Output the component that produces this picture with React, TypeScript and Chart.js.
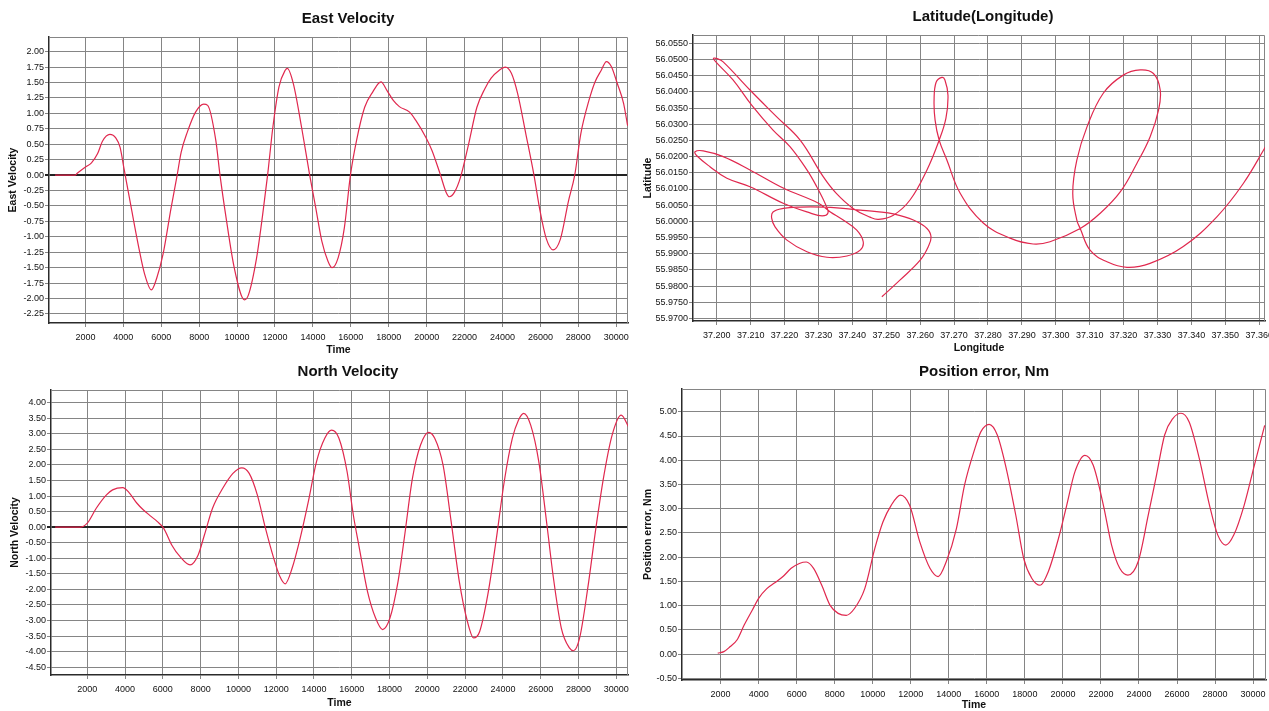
import React, { useEffect, useRef } from "react";
import { Chart, registerables } from "chart.js";

Chart.register(...registerables);

const FONT = "'Liberation Sans', Arial, Helvetica, sans-serif";
const RED = "#e0284e";
const GRID = "#858585";
const AXIS = "#2b2b2b";

// ---------- East Velocity ----------
const eastTime = [400, 1460, 1570, 2000, 2320, 2645, 2900, 3290, 3610, 3830, 4040, 4400, 4800, 5120, 5480, 5760, 6090, 6520, 6840, 7050, 7380, 7810, 8240, 8450, 8880, 9100, 9420, 9850, 10390, 10600, 11030, 11350, 11610, 11890, 12210, 12540, 12650, 12970, 13400, 13830, 14150, 14470, 14800, 15010, 15330, 15660, 15980, 16300, 16730, 17160, 17590, 17910, 18240, 18560, 19100, 19420, 19960, 20280, 20710, 21030, 21200, 21460, 21780, 22210, 22650, 23070, 23400, 23830, 24150, 24470, 24800, 25230, 25660, 25980, 26300, 26670, 27050, 27480, 27810, 28130, 28560, 28880, 29210, 29480, 29740, 30060, 30390, 30600];
const eastVel = [0, 0, 0.03, 0.13, 0.2, 0.35, 0.55, 0.66, 0.6, 0.45, 0.1, -0.5, -1.15, -1.6, -1.86, -1.67, -1.29, -0.53, 0, 0.37, 0.7, 1.02, 1.15, 1.13, 0.56, 0, -0.69, -1.5, -2.02, -1.94, -1.34, -0.64, 0, 0.78, 1.43, 1.7, 1.73, 1.48, 0.78, 0, -0.53, -1.07, -1.4, -1.5, -1.34, -0.85, 0, 0.56, 1.1, 1.35, 1.51, 1.37, 1.21, 1.11, 1.02, 0.89, 0.61, 0.4, 0.02, -0.28, -0.35, -0.28, -0.04, 0.5, 1.1, 1.4, 1.57, 1.7, 1.75, 1.65, 1.32, 0.67, 0, -0.58, -1.02, -1.21, -1.04, -0.42, 0, 0.67, 1.21, 1.51, 1.7, 1.84, 1.76, 1.48, 1.16, 0.8];

// ---------- North Velocity ----------
const northTime = [300, 1610, 2000, 2475, 3015, 3340, 3880, 4200, 4630, 4960, 5390, 5710, 6040, 6470, 6900, 7440, 7870, 8200, 8630, 9170, 9710, 10180, 10570, 11000, 11430, 11870, 12190, 12470, 12840, 13270, 13700, 14130, 14570, 14930, 15320, 15750, 16080, 16400, 16830, 17260, 17630, 18020, 18450, 18780, 19210, 19640, 20070, 20390, 20830, 21260, 21690, 22120, 22450, 22770, 23200, 23630, 24070, 24500, 24820, 25100, 25470, 25900, 26330, 26650, 27090, 27520, 27740, 28060, 28490, 28920, 29350, 29780, 30260, 30650];
const northVel = [0, 0, 0.13, 0.61, 1.04, 1.2, 1.27, 1.12, 0.77, 0.56, 0.34, 0.18, -0.03, -0.57, -0.94, -1.21, -0.89, -0.25, 0.61, 1.25, 1.73, 1.91, 1.73, 1.04, -0.03, -1.0, -1.58, -1.82, -1.32, -0.35, 0.82, 2.1, 2.86, 3.12, 2.86, 1.79, 0.4, -0.67, -2.06, -2.92, -3.29, -2.92, -1.74, -0.35, 1.57, 2.64, 3.05, 2.86, 2.0, 0.18, -1.74, -3.03, -3.56, -3.35, -2.17, -0.46, 1.47, 2.86, 3.44, 3.66, 3.28, 2.1, 0.07, -1.53, -3.24, -3.88, -3.97, -3.56, -1.96, -0.03, 1.68, 2.96, 3.6, 3.23];

// ---------- Position error ----------
const errTime = [1850, 2170, 2490, 2860, 3240, 3670, 4000, 4430, 4850, 5280, 5710, 6140, 6510, 6890, 7320, 7750, 8180, 8610, 9040, 9580, 10110, 10540, 10970, 11460, 11940, 12470, 13010, 13440, 13870, 14400, 14830, 15370, 15690, 16120, 16550, 16980, 17520, 17940, 18370, 18800, 19230, 19770, 20200, 20630, 21160, 21590, 22130, 22560, 22990, 23420, 23960, 24490, 24920, 25350, 25780, 26210, 26640, 27170, 27710, 28140, 28570, 28990, 29530, 30070, 30610];
const errVal = [0.02, 0.05, 0.15, 0.29, 0.6, 0.91, 1.15, 1.35, 1.47, 1.6, 1.77, 1.87, 1.9, 1.77, 1.42, 1.01, 0.84, 0.8, 0.94, 1.35, 2.18, 2.73, 3.07, 3.28, 3.07, 2.32, 1.77, 1.6, 1.91, 2.59, 3.49, 4.24, 4.59, 4.74, 4.52, 3.9, 2.87, 1.97, 1.56, 1.42, 1.7, 2.39, 3.07, 3.76, 4.1, 3.9, 3.07, 2.25, 1.77, 1.63, 1.91, 2.87, 3.69, 4.52, 4.86, 4.97, 4.79, 4.04, 3.07, 2.46, 2.25, 2.46, 3.07, 3.9, 4.72];

// ---------- Latitude(Longitude) track ----------
const trackLon = [37.2487, 37.2541, 37.26, 37.2624, 37.2632, 37.262, 37.258, 37.2521, 37.2472, 37.2423, 37.2364, 37.2314, 37.2246, 37.2196, 37.2166, 37.2162, 37.2172, 37.2207, 37.2266, 37.2325, 37.2384, 37.2423, 37.2432, 37.2413, 37.2373, 37.2334, 37.23, 37.2196, 37.2098, 37.2019, 37.196, 37.1936, 37.1942, 37.198, 37.203, 37.2098, 37.2196, 37.2275, 37.2311, 37.2328, 37.2322, 37.2295, 37.2266, 37.2216, 37.2166, 37.2103, 37.2048, 37.1998, 37.199, 37.2001, 37.2019, 37.2098, 37.2177, 37.2246, 37.2314, 37.2352, 37.2402, 37.2452, 37.2477, 37.2521, 37.257, 37.262, 37.2656, 37.2676, 37.2682, 37.2673, 37.2664, 37.2647, 37.2641, 37.2644, 37.2656, 37.2679, 37.2718, 37.2786, 37.2865, 37.2933, 37.2983, 37.3072, 37.3131, 37.319, 37.3239, 37.3278, 37.3303, 37.3308, 37.3288, 37.3249, 37.3199, 37.314, 37.3092, 37.3062, 37.305, 37.3062, 37.3072, 37.3101, 37.3151, 37.321, 37.3278, 37.3376, 37.3475, 37.3553, 37.362];
const trackLat = [55.9767, 55.9819, 55.988, 55.9922, 55.9952, 55.9978, 56.0004, 56.0023, 56.003, 56.0035, 56.0041, 56.0044, 56.0044, 56.004, 56.0029, 56.001, 55.9983, 55.9942, 55.9906, 55.9889, 55.9893, 55.9911, 55.9937, 55.9973, 56.0004, 56.003, 56.0056, 56.0103, 56.0159, 56.02, 56.0218, 56.0215, 56.0202, 56.0169, 56.0133, 56.0107, 56.0056, 56.0026, 56.0017, 56.0026, 56.005, 56.0107, 56.0159, 56.0231, 56.0282, 56.0359, 56.0437, 56.0492, 56.0504, 56.0503, 56.0493, 56.0406, 56.0323, 56.0251, 56.0138, 56.0087, 56.004, 56.0013, 56.0006, 56.0019, 56.0066, 56.0159, 56.0251, 56.0319, 56.039, 56.0437, 56.0445, 56.043, 56.0375, 56.0313, 56.0251, 56.0189, 56.0087, 55.9995, 55.9948, 55.993, 55.9937, 55.9978, 56.0025, 56.0091, 56.0179, 56.0261, 56.0344, 56.0406, 56.0457, 56.0468, 56.0452, 56.0396, 56.0292, 56.0189, 56.0087, 56.0004, 55.9978, 55.9911, 55.9875, 55.9858, 55.987, 55.9922, 56.0014, 56.0117, 56.0233];

// ---------- Tick values ----------
const timeTicks = [2000, 4000, 6000, 8000, 10000, 12000, 14000, 16000, 18000, 20000, 22000, 24000, 26000, 28000, 30000];
const eastTicks = [-2.25, -2.0, -1.75, -1.5, -1.25, -1.0, -0.75, -0.5, -0.25, 0, 0.25, 0.5, 0.75, 1.0, 1.25, 1.5, 1.75, 2.0];
const northTicks = [-4.5, -4.0, -3.5, -3.0, -2.5, -2.0, -1.5, -1.0, -0.5, 0, 0.5, 1.0, 1.5, 2.0, 2.5, 3.0, 3.5, 4.0];
const errTicks = [-0.5, 0, 0.5, 1.0, 1.5, 2.0, 2.5, 3.0, 3.5, 4.0, 4.5, 5.0];
const lonTicks = [37.2, 37.21, 37.22, 37.23, 37.24, 37.25, 37.26, 37.27, 37.28, 37.29, 37.3, 37.31, 37.32, 37.33, 37.34, 37.35, 37.36];
const latTicks = [55.97, 55.975, 55.98, 55.985, 55.99, 55.995, 56.0, 56.005, 56.01, 56.015, 56.02, 56.025, 56.03, 56.035, 56.04, 56.045, 56.05, 56.055];

type Spec = {
  key: string;
  left: number; top: number; width: number; height: number;
  area: { left: number; top: number; right: number; bottom: number };
  title: string; titleX: number; titleY: number;
  xTitle: string; yTitle: string; yTitlePad: number; xTitlePad: number;
  xMin: number; xMax: number; yMin: number; yMax: number;
  xTicks: number[]; yTicks: number[]; xDec: number; yDec: number;
  xs: number[]; ys: number[]; zeroLine: boolean; kind: "line" | "scatter";
};

const SPECS: Spec[] = [
  {
    key: "east", left: 0, top: 0, width: 640, height: 358,
    area: { left: 49, top: 37, right: 628, bottom: 323 },
    title: "East Velocity", titleX: 348, titleY: 19,
    xTitle: "Time", yTitle: "East Velocity", yTitlePad: 7.2, xTitlePad: 1.7,
    xMin: 80, xMax: 30620, yMin: -2.396, yMax: 2.238,
    xTicks: timeTicks, yTicks: eastTicks, xDec: 0, yDec: 2,
    xs: eastTime, ys: eastVel, zeroLine: true, kind: "line",
  },
  {
    key: "track", left: 640, top: 0, width: 629, height: 358,
    area: { left: 53, top: 35, right: 625, bottom: 321 },
    title: "Latitude(Longitude)", titleX: 343, titleY: 17,
    xTitle: "Longitude", yTitle: "Latitude", yTitlePad: 2.1, xTitlePad: 4,
    xMin: 37.193, xMax: 37.3617, yMin: 55.9692, yMax: 56.0576,
    xTicks: lonTicks, yTicks: latTicks, xDec: 3, yDec: 4,
    xs: trackLon, ys: trackLat, zeroLine: false, kind: "scatter",
  },
  {
    key: "north", left: 0, top: 356, width: 640, height: 355,
    area: { left: 51, top: 34, right: 628, bottom: 319 },
    title: "North Velocity", titleX: 348, titleY: 15.7,
    xTitle: "Time", yTitle: "North Velocity", yTitlePad: 8.7, xTitlePad: 1.4,
    xMin: 80, xMax: 30620, yMin: -4.75, yMax: 4.41,
    xTicks: timeTicks, yTicks: northTicks, xDec: 0, yDec: 2,
    xs: northTime, ys: northVel, zeroLine: true, kind: "line",
  },
  {
    key: "err", left: 640, top: 356, width: 629, height: 355,
    area: { left: 42, top: 33, right: 626, bottom: 324 },
    title: "Position error, Nm", titleX: 344, titleY: 15.7,
    xTitle: "Time", yTitle: "Position error, Nm", yTitlePad: 2.1, xTitlePad: 0,
    xMin: -30, xMax: 30680, yMin: -0.535, yMax: 5.47,
    xTicks: timeTicks, yTicks: errTicks, xDec: 0, yDec: 2,
    xs: errTime, ys: errVal, zeroLine: false, kind: "line",
  },
];

const framePlugin = {
  id: "frame",
  beforeDatasetsDraw(chart: any) {
    const { ctx, chartArea: a } = chart;
    ctx.save();
    ctx.strokeStyle = GRID;
    ctx.lineWidth = 1;
    ctx.beginPath();
    ctx.moveTo(a.left, a.top + 0.5);
    ctx.lineTo(a.right - 0.5, a.top + 0.5);
    ctx.lineTo(a.right - 0.5, a.bottom);
    ctx.stroke();
    ctx.restore();
  },
  afterDraw(chart: any, _args: any, opts: any) {
    const ctx = chart.ctx;
    ctx.save();
    ctx.font = `bold 15px ${FONT}`;
    ctx.fillStyle = "#111";
    ctx.textAlign = "center";
    ctx.textBaseline = "middle";
    ctx.fillText(opts.text, opts.x, opts.y);
    ctx.restore();
  },
};

function buildConfig(s: Spec): any {
  const points = s.xs.map((x, i) => ({ x, y: s.ys[i] }));
  const tickFont = { family: FONT, size: 9 };
  const titleFont = { family: FONT, size: 10.5, weight: "bold" as const };
  const isZero = (ctx: any) => s.zeroLine && ctx.tick && Math.abs(ctx.tick.value) < 1e-9;
  return {
    type: s.kind,
    data: {
      datasets: [
        {
          data: points,
          borderColor: RED,
          backgroundColor: RED,
          borderWidth: 1.2,
          pointRadius: 0,
          showLine: true,
          fill: false,
          tension: 0.4,
          cubicInterpolationMode: s.kind === "line" ? "monotone" : "default",
        },
      ],
    },
    plugins: [framePlugin],
    options: {
      responsive: false,
      animation: false,
      devicePixelRatio: 1,
      layout: { padding: { left: 0, top: s.area.top, right: s.width - s.area.right, bottom: 0 } },
      plugins: {
        legend: { display: false },
        tooltip: { enabled: false },
        title: { display: false },
        frame: { text: s.title, x: s.titleX, y: s.titleY },
      },
      scales: {
        x: {
          type: "linear",
          min: s.xMin,
          max: s.xMax,
          afterBuildTicks: (axis: any) => {
            axis.ticks = s.xTicks.map((v) => ({ value: v }));
          },
          afterFit: (axis: any) => {
            axis.height = s.height - s.area.bottom;
            axis.paddingLeft = 0;
            axis.paddingRight = 0;
          },
          ticks: {
            autoSkip: false,
            maxRotation: 0,
            minRotation: 0,
            padding: 5,
            font: tickFont,
            color: "#111",
            callback: (v: any) => Number(v).toFixed(s.xDec),
          },
          grid: { color: GRID, lineWidth: 1, tickLength: 4, drawTicks: true },
          border: { display: true, color: AXIS, width: 1.5 },
          title: {
            display: true,
            text: s.xTitle,
            color: "#111",
            font: titleFont,
            padding: { top: 0, bottom: s.xTitlePad },
          },
        },
        y: {
          type: "linear",
          min: s.yMin,
          max: s.yMax,
          afterBuildTicks: (axis: any) => {
            axis.ticks = s.yTicks.map((v) => ({ value: v }));
          },
          afterFit: (axis: any) => {
            axis.width = s.area.left;
            axis.paddingTop = 0;
            axis.paddingBottom = 0;
          },
          ticks: {
            autoSkip: false,
            padding: 1,
            font: tickFont,
            color: "#111",
            callback: (v: any) => Number(v).toFixed(s.yDec),
          },
          grid: {
            color: (ctx: any) => (isZero(ctx) ? "#222" : GRID),
            lineWidth: (ctx: any) => (isZero(ctx) ? 2 : 1),
            tickLength: 4,
            drawTicks: true,
          },
          border: { display: true, color: AXIS, width: 1.5 },
          title: {
            display: true,
            text: s.yTitle,
            color: "#111",
            font: titleFont,
            padding: { top: s.yTitlePad, bottom: 0 },
          },
        },
      },
    },
  };
}

function Panel({ spec }: { spec: Spec }) {
  const ref = useRef<HTMLCanvasElement>(null);
  useEffect(() => {
    if (!ref.current) return;
    const chart = new Chart(ref.current, buildConfig(spec));
    return () => chart.destroy();
  }, [spec]);
  return (
    <canvas
      ref={ref}
      width={spec.width}
      height={spec.height}
      style={{
        position: "absolute",
        left: spec.left,
        top: spec.top,
        width: spec.width,
        height: spec.height,
        display: "block",
      }}
    />
  );
}

export default function App() {
  return (
    <div
      style={{
        position: "fixed",
        left: 0,
        top: 0,
        width: 1269,
        height: 711,
        background: "#ffffff",
        overflow: "hidden",
      }}
    >
      {SPECS.map((s) => (
        <Panel key={s.key} spec={s} />
      ))}
    </div>
  );
}
